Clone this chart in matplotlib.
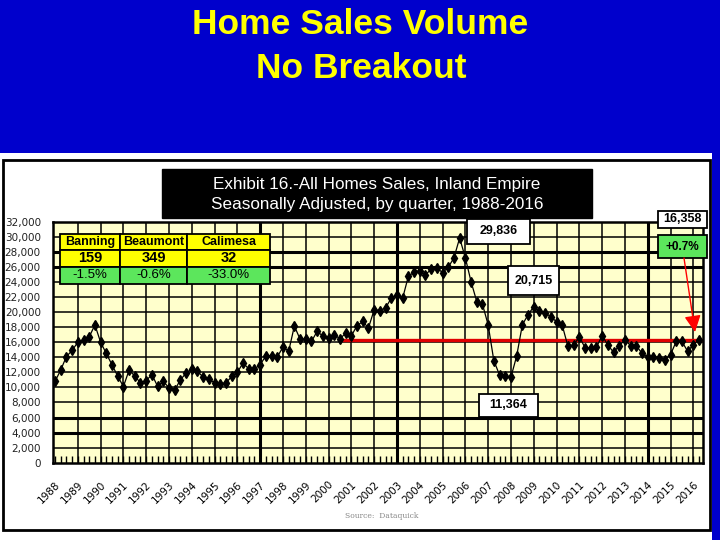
import matplotlib
matplotlib.use("Agg")

import matplotlib.pyplot as plt
from matplotlib.patches import Rectangle, FancyArrowPatch
from matplotlib.transforms import ScaledTranslation

# quarterly sales, 1988 Q1 .. 2016 Q2
sales = [
    10800, 12300, 14100, 14900,   # 1988
    16000, 16300, 16700, 18300,   # 1989
    16000, 14500, 13000, 11500,   # 1990
    10100, 12300, 11500, 10600,   # 1991
    10900, 11700, 10150, 10800,   # 1992
    9950, 9650, 11000, 11900,     # 1993
    12450, 12150, 11350, 11100,   # 1994
    10600, 10500, 10600, 11450,   # 1995
    12000, 13250, 12450, 12450,   # 1996
    13000, 14200, 14200, 14050,   # 1997
    15350, 14800, 18150, 16400,   # 1998
    16400, 16100, 17450, 16800,   # 1999
    16550, 17000, 16450, 17200,   # 2000
    16850, 18200, 18750, 17900,   # 2001
    20300, 20200, 20550, 21850,   # 2002
    22300, 21850, 24750, 25300,   # 2003
    25500, 24950, 25700, 25850,   # 2004
    25250, 25950, 27200, 29836,   # 2005
    27200, 24050, 21400, 21050,   # 2006
    18300, 13550, 11650, 11450,   # 2007
    11364, 14150, 18300, 19650,   # 2008
    20715, 20100, 19850, 19400,   # 2009
    18700, 18250, 15450, 15600,   # 2010
    16750, 15250, 15250, 15350,   # 2011
    16850, 15650, 14650, 15550,   # 2012
    16300, 15550, 15550, 14500,   # 2013
    14100, 14050, 13900, 13700,   # 2014
    14350, 16100, 16100, 14800,   # 2015
    15650, 16358,                 # 2016
]
years = [str(y) for y in range(1988, 2017)]
y_ticks = list(range(0, 32001, 2000))

cities = ["Banning", "Beaumont", "Calimesa"]
city_sales = ["159", "349", "32"]
city_change = ["-1.5%", "-0.6%", "-33.0%"]

callouts = ["29,836", "20,715", "11,364", "16,358"]
last_change = "+0.7%"

W, H = 720, 540
BLUE = "#0000CC"
YELLOW = "#FFFF00"
GREEN = "#5CE65C"


def fx(x):
    return x / W


def fy(y):
    return 1 - y / H


fig = plt.figure(figsize=(7.2, 5.4), dpi=100)
fig.patch.set_facecolor(BLUE)

# white panel with black frame
fig.add_artist(Rectangle((0, fy(540)), fx(712), fy(153) - fy(540),
                         transform=fig.transFigure, fc="white", ec="none", zorder=-2))
fig.add_artist(Rectangle((fx(3), fy(530)), fx(710) - fx(3), fy(160) - fy(530),
                         transform=fig.transFigure, fc="none", ec="black", lw=2, zorder=-1))

# slide title
fig.text(fx(360), fy(25), "Home Sales Volume", ha="center", va="center", color=YELLOW,
         fontsize=25.5, weight="bold", family="Liberation Sans")
fig.text(fx(361), fy(68), "No Breakout", ha="center", va="center", color=YELLOW,
         fontsize=25.5, weight="bold", family="Liberation Sans")

# main axes
ax = fig.add_axes([fx(53.3), fy(462.7), fx(703) - fx(53.3), fy(221.7) - fy(462.7)])
ax.set_facecolor("#FFFFCC")
idx = list(range(len(sales)))

for v in y_ticks[1:-1]:
    ax.axhline(v, color="black", lw=2.2 if v in (4000, 6000, 26000, 28000) else 1.1, zorder=1)
for i in range(4, len(sales), 4):
    ax.axvline(i, color="black", lw=2.2 if i in (36, 60, 104) else 1.1, zorder=1)

ax.plot([50.5, 113.7], [sales[-1], sales[-1]], color="#E00000", lw=2.4, zorder=2)
ax.plot(idx, sales, color="black", lw=0.9, marker="d", ms=5.5, zorder=3)

ax.set_xlim(-0.3, 113.7)
ax.set_ylim(0, 32000)
ax.set_yticks(y_ticks, labels=[f"{v:,}" for v in y_ticks])
ax.tick_params(axis="y", length=0, pad=9, labelsize=7.5, labelcolor="#222222")
ax.set_xticks(list(range(0, len(sales), 4)), labels=years)
ax.set_xticks(idx, minor=True)
ax.tick_params(axis="x", which="both", direction="in", length=5, width=1)
ax.tick_params(axis="x", which="major", pad=12, labelsize=7.5)
shift = ScaledTranslation(5 / 72, 0, fig.dpi_scale_trans)
for lab in ax.get_xticklabels():
    lab.set_rotation(45)
    lab.set_ha("right")
    lab.set_transform(lab.get_transform() + shift)
for s in ax.spines.values():
    s.set_linewidth(1.8)
    s.set_zorder(4)

# chart title box
fig.add_artist(Rectangle((fx(162), fy(218)), fx(592) - fx(162), fy(169) - fy(218),
                         transform=fig.transFigure, fc="black", ec="black", zorder=5))
fig.text(fx(377), fy(184.5), "Exhibit 16.-All Homes Sales, Inland Empire", ha="center",
         va="center", color="white", fontsize=12.3, family="Liberation Sans", zorder=6)
fig.text(fx(377), fy(204), "Seasonally Adjusted, by quarter, 1988-2016", ha="center",
         va="center", color="white", fontsize=12.3, family="Liberation Sans", zorder=6)


def box(x0, y0, x1, y1, text, fc="white", fs=9, weight="bold"):
    fig.add_artist(Rectangle((fx(x0), fy(y1)), fx(x1) - fx(x0), fy(y0) - fy(y1),
                             transform=fig.transFigure, fc=fc, ec="black", lw=1.3, zorder=5))
    fig.text(fx((x0 + x1) / 2), fy((y0 + y1) / 2), text, ha="center", va="center",
             fontsize=fs, weight=weight, family="Liberation Sans", zorder=6)


# city table
col_edges = [60, 120, 187, 270]
row_edges = [234, 250, 266.7, 284]
for c in range(3):
    x0, x1 = col_edges[c], col_edges[c + 1]
    box(x0, row_edges[0], x1, row_edges[1], cities[c], YELLOW, 9, "bold")
    box(x0, row_edges[1], x1, row_edges[2], city_sales[c], YELLOW, 10.5, "bold")
    box(x0, row_edges[2], x1, row_edges[3], city_change[c], GREEN, 9.5, "normal")

# callouts
box(467, 219, 530, 244, callouts[0])
box(508, 266, 559, 295, callouts[1])
box(479, 394, 538, 417, callouts[2])
box(658, 211, 707, 228, callouts[3])
box(658, 235, 707, 258, last_change, GREEN, 8.5)

fig.add_artist(FancyArrowPatch((fx(684), fy(258)), (fx(695), fy(332)),
                               transform=fig.transFigure, color="red", lw=1,
                               arrowstyle="-|>,head_length=1.0,head_width=0.5",
                               mutation_scale=10, shrinkA=0, shrinkB=0, zorder=7))

fig.text(fx(345), fy(516), "Source:  Dataquick", fontsize=5.5, color="#888888",
         family="DejaVu Serif", va="center")

fig.savefig("out.png", dpi=100, facecolor=fig.get_facecolor())
